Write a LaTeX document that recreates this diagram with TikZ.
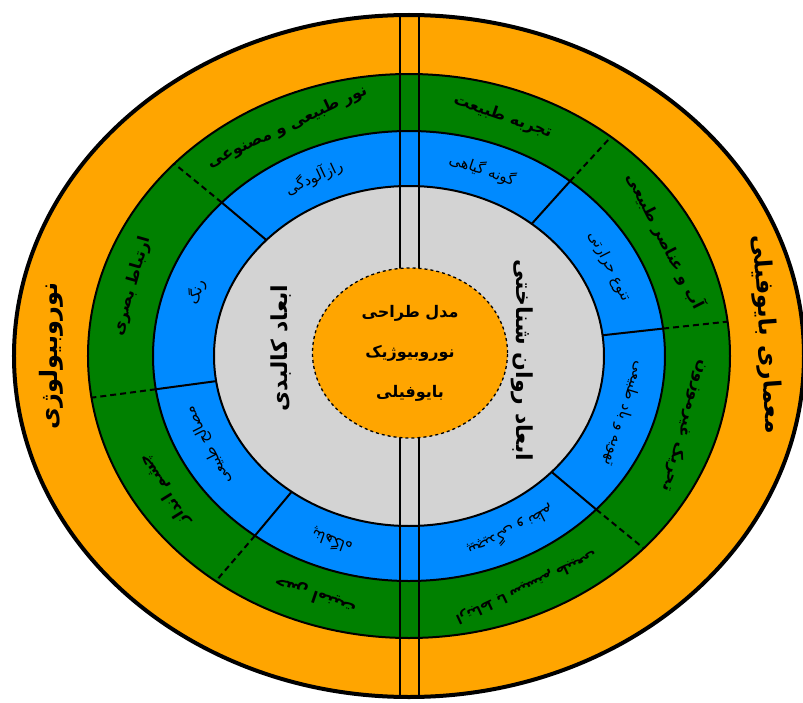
\documentclass[tikz,border=0pt]{standalone}
\usepackage{fontspec}
\usetikzlibrary{shapes.geometric}
\newfontfamily\farsi[Script=Arabic]{DejaVu Sans}
\TeXXeTstate=1
\definecolor{ringorange}{RGB}{255,165,0}
\definecolor{ringgreen}{RGB}{0,128,0}
\definecolor{ringblue}{RGB}{0,138,255}
\definecolor{ringgrey}{RGB}{211,211,211}
\newcommand{\fa}[1]{\beginR #1\endR}
\tikzset{
  ringline/.style={draw=black,line width=2pt},
  outertext/.style={font=\farsi\bfseries\fontsize{24}{28}\selectfont},
  dimtext/.style={font=\farsi\bfseries\fontsize{22}{26}\selectfont},
  greentext/.style={font=\farsi\bfseries\fontsize{16}{19}\selectfont},
  bluetext/.style={font=\farsi\fontsize{15}{18}\selectfont},
}
\begin{document}
\begin{tikzpicture}[x=1pt,y=1pt]
  \useasboundingbox (-409,-346) rectangle (394,356);
  % rings
  \fill[ringorange] (0,0) ellipse (395 and 341);
  \filldraw[ringgreen,ringline] (0,0) ellipse (321 and 282);
  \filldraw[ringblue,ringline] (0,0) ellipse (256 and 225);
  \filldraw[ringgrey,ringline] (0,0) ellipse (195 and 170);
  % dividers
  \foreach \a in {51,7,-43,-127,188.5,137} {
    \draw[line width=2pt] (\a:195 and 170) -- (\a:256 and 225);
    \draw[line width=2pt,dash pattern=on 6pt off 4pt] (\a:256 and 225) -- (\a:321 and 282);
  }
  % double line
  \draw[line width=2pt] (-9,-341) -- (-9,341);
  \draw[line width=2pt] (10,-341) -- (10,341);
  \draw[line width=4pt] (0,0) ellipse (395 and 341);
  % centre
  \node[draw=black,dashed,line width=1.3pt,fill=ringorange,ellipse,minimum width=195,minimum height=170,inner sep=0pt,
        font=\farsi\bfseries\fontsize{16}{40}\selectfont,align=center] (model) at (1,3)
        {\fa{مدل طراحی}\\\fa{نوروبیوژیک}\\\fa{بایوفیلی}};
  % outer ring
  \node[outertext,rotate=-86] (biophilic) at (4:358 and 311) {\fa{معماری بایوفیلی}};
  \node[outertext,rotate=90] (neuro) at (180:358 and 311) {\fa{نوروبیولوژی}};
  % dimensions
  \node[dimtext,rotate=-90] (psych) at (113,-4) {\fa{ابعاد روان شناختی}};
  \node[dimtext,rotate=90] (physical) at (-128,8) {\fa{ابعاد کالبدی}};
  % green ring
  \node[greentext,rotate=-19] (experience) at (71:288 and 253) {\fa{تجربه طبیعت}};
  \node[greentext,rotate=-63] (water) at (27:288 and 253) {\fa{آب و عناصر طبیعی}};
  \node[greentext,rotate=-106] (stimuli) at (-16:288 and 253) {\fa{تحریک غیرموزون}};
  \node[greentext,font=\farsi\bfseries\fontsize{13}{15}\selectfont,rotate=-155] (systems) at (-66:288 and 253) {\fa{ارتباط با سیستم طبیعی}};
  \node[greentext,rotate=25] (light) at (115:288 and 253) {\fa{نور طبیعی و مصنوعی}};
  \node[greentext,rotate=74] (visual) at (164:288 and 253) {\fa{ارتباط بصری}};
  \node[greentext,rotate=122] (prospect) at (212:288 and 253) {\fa{چشم انداز}};
  \node[greentext,rotate=161] (safety) at (251:288 and 253) {\fa{حس امنیت}};
  % blue ring
  \node[bluetext,rotate=-19] (plants) at (71:225 and 197) {\fa{گونه گیاهی}};
  \node[bluetext,rotate=-63] (thermal) at (27:225 and 197) {\fa{تنوع حرارتی}};
  \node[bluetext,rotate=-107] (airflow) at (-17:225 and 197) {\fa{تهویه و باد طبیعی}};
  \node[bluetext,rotate=-153] (order) at (-63:225 and 197) {\fa{پیچیدگی و نظم}};
  \node[bluetext,rotate=25] (mystery) at (115:225 and 197) {\fa{رازآلودگی}};
  \node[bluetext,rotate=71] (colour) at (161:225 and 197) {\fa{رنگ}};
  \node[bluetext,rotate=117] (material) at (207:225 and 197) {\fa{مصالح طبیعی}};
  \node[bluetext,rotate=160] (refuge) at (250:225 and 197) {\fa{پناهگاه}};
\end{tikzpicture}
\end{document}
